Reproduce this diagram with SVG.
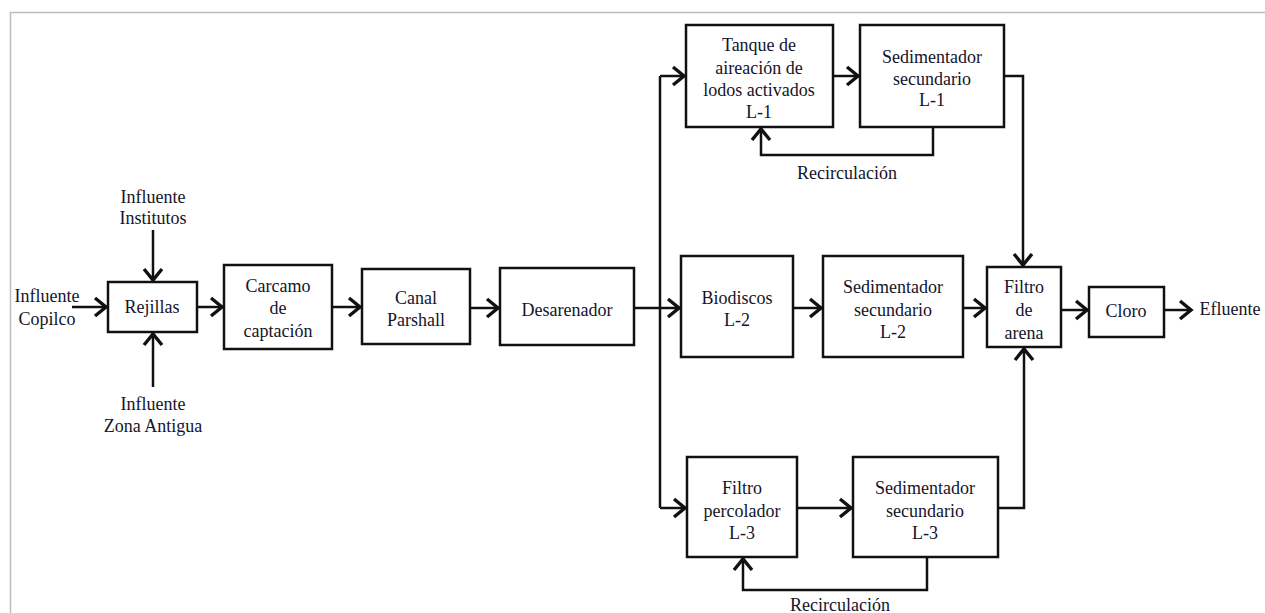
<svg xmlns="http://www.w3.org/2000/svg" width="1265" height="613" viewBox="0 0 1265 613">
  <style>
    .box { fill: #ffffff; stroke: #111111; stroke-width: 2.5; }
    .lbl { font-family: "Liberation Serif", Tinos, "DejaVu Serif", serif; font-size: 18px; fill: #14142a; text-anchor: middle; }
    .wire { fill: none; stroke: #111111; stroke-width: 2.5; stroke-linejoin: miter; }
    .arr { marker-end: url(#chev); }
  </style>
  <defs>
    <marker id="chev" markerUnits="userSpaceOnUse" markerWidth="20" markerHeight="24" refX="14" refY="10" orient="auto" overflow="visible">
      <path d="M2,1 L13,10 L2,19" fill="none" stroke="#111111" stroke-width="3.4" stroke-linejoin="miter"/>
    </marker>
  </defs>

  <rect width="1265" height="613" fill="#ffffff"/>
  <!-- page frame -->
  <path d="M10.5,613 L10.5,12.5 L1265,12.5" fill="none" stroke="#bdbdbd" stroke-width="1.5"/>

  <!-- connectors -->
  <g id="connectors">
    <path class="wire arr" d="M72,307 H107"/>
    <path class="wire arr" d="M153,230 V281"/>
    <path class="wire arr" d="M153,387 V333"/>
    <path class="wire arr" d="M197,307 H223"/>
    <path class="wire arr" d="M332,307 H361"/>
    <path class="wire arr" d="M470,308 H499"/>
    <path class="wire arr" d="M634,308 H680"/>
    <path class="wire" d="M660,76 V508"/>
    <path class="wire arr" d="M660,76 H685"/>
    <path class="wire arr" d="M660,508 H686"/>
    <path class="wire arr" d="M833,76 H859"/>
    <path class="wire arr" d="M1004,76 H1023 V266"/>
    <path class="wire arr" d="M933,127 V155 H761 V128"/>
    <path class="wire arr" d="M793,308 H822"/>
    <path class="wire arr" d="M963,308 H986"/>
    <path class="wire arr" d="M1061,310 H1088"/>
    <path class="wire arr" d="M1164,310 H1192"/>
    <path class="wire arr" d="M797,508 H852"/>
    <path class="wire arr" d="M998,508 H1024 V348"/>
    <path class="wire arr" d="M927,557 V590 H743 V558"/>
  </g>

  <!-- free labels -->
  <g id="labels">
    <text class="lbl" x="47" y="302">Influente</text>
    <text class="lbl" x="47" y="325">Copilco</text>
    <text class="lbl" x="153" y="203">Influente</text>
    <text class="lbl" x="153" y="224">Institutos</text>
    <text class="lbl" x="153" y="410">Influente</text>
    <text class="lbl" x="153" y="432">Zona Antigua</text>
    <text class="lbl" x="1230" y="315">Efluente</text>
    <text class="lbl" x="847" y="179">Recirculación</text>
    <text class="lbl" x="840" y="611">Recirculación</text>
  </g>

  <g id="rejillas">
    <rect class="box" x="108" y="282" width="89" height="50"/>
    <text class="lbl" x="152" y="313">Rejillas</text>
  </g>
  <g id="carcamo">
    <rect class="box" x="224" y="265" width="108" height="84"/>
    <text class="lbl" x="278" y="292">Carcamo</text>
    <text class="lbl" x="278" y="314">de</text>
    <text class="lbl" x="278" y="337">captación</text>
  </g>
  <g id="canal-parshall">
    <rect class="box" x="362" y="269" width="108" height="75"/>
    <text class="lbl" x="416" y="304">Canal</text>
    <text class="lbl" x="416" y="326">Parshall</text>
  </g>
  <g id="desarenador">
    <rect class="box" x="500" y="268" width="134" height="77"/>
    <text class="lbl" x="567" y="316">Desarenador</text>
  </g>
  <g id="tanque-aireacion">
    <rect class="box" x="686" y="25" width="147" height="102"/>
    <text class="lbl" x="759" y="51">Tanque de</text>
    <text class="lbl" x="759" y="74">aireación de</text>
    <text class="lbl" x="759" y="96">lodos activados</text>
    <text class="lbl" x="759" y="118">L-1</text>
  </g>
  <g id="sedimentador-1">
    <rect class="box" x="860" y="25" width="144" height="102"/>
    <text class="lbl" x="932" y="63">Sedimentador</text>
    <text class="lbl" x="932" y="85">secundario</text>
    <text class="lbl" x="932" y="106">L-1</text>
  </g>
  <g id="biodiscos">
    <rect class="box" x="681" y="256" width="112" height="101"/>
    <text class="lbl" x="737" y="304">Biodiscos</text>
    <text class="lbl" x="737" y="326">L-2</text>
  </g>
  <g id="sedimentador-2">
    <rect class="box" x="823" y="256" width="140" height="101"/>
    <text class="lbl" x="893" y="293">Sedimentador</text>
    <text class="lbl" x="893" y="316">secundario</text>
    <text class="lbl" x="893" y="338">L-2</text>
  </g>
  <g id="filtro-arena">
    <rect class="box" x="987" y="267" width="74" height="80"/>
    <text class="lbl" x="1024" y="293">Filtro</text>
    <text class="lbl" x="1024" y="316">de</text>
    <text class="lbl" x="1024" y="339">arena</text>
  </g>
  <g id="cloro">
    <rect class="box" x="1089" y="287" width="75" height="50"/>
    <text class="lbl" x="1126" y="317">Cloro</text>
  </g>
  <g id="filtro-percolador">
    <rect class="box" x="687" y="457" width="110" height="100"/>
    <text class="lbl" x="742" y="494">Filtro</text>
    <text class="lbl" x="742" y="517">percolador</text>
    <text class="lbl" x="742" y="539">L-3</text>
  </g>
  <g id="sedimentador-3">
    <rect class="box" x="853" y="457" width="145" height="100"/>
    <text class="lbl" x="925" y="494">Sedimentador</text>
    <text class="lbl" x="925" y="517">secundario</text>
    <text class="lbl" x="925" y="539">L-3</text>
  </g>
</svg>
